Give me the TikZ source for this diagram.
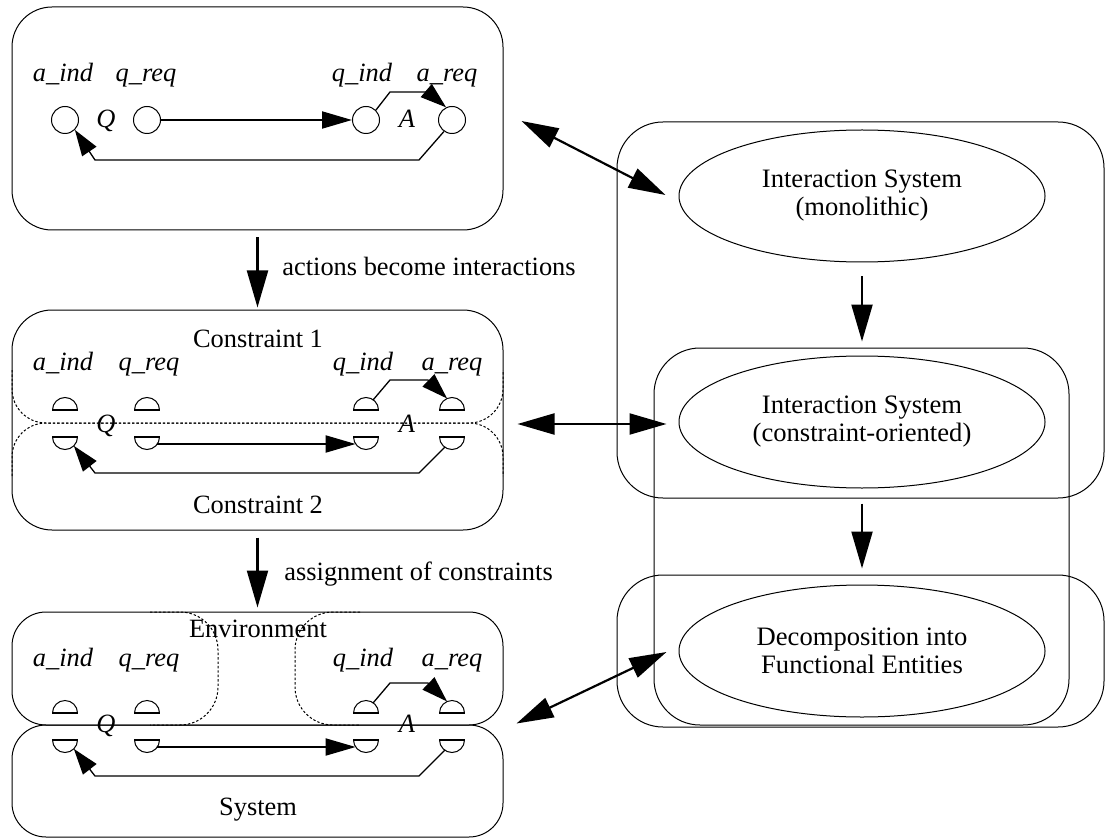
\documentclass[tikz,border=0pt]{standalone}
\usepackage{fontspec}
\setmainfont{Liberation Serif}
\usetikzlibrary{arrows.meta,calc,shapes.geometric}
\begin{document}
\begin{tikzpicture}[x=0.5pt,y=0.5pt,
 lbox/.style={draw, line width=0.5pt, rounded corners=20pt, inner sep=0pt, minimum width=245.5pt},
 rbox/.style={draw, line width=0.5pt, rounded corners=23pt, inner sep=0pt},
 dotline/.style={line width=0.5pt, dash pattern=on 1.2pt off 1pt},
 port/.style={circle, draw, line width=0.5pt, minimum size=13.5pt, inner sep=0pt},
 dome/.style={line width=0.5pt},
 flatbar/.style={line width=1.1pt},
 lbl/.style={font=\fontsize{13.2}{15}\selectfont\itshape, anchor=base, inner sep=0pt},
 txt/.style={font=\fontsize{13.2}{15}\selectfont, anchor=base, inner sep=0pt},
 ell/.style={ellipse, draw, line width=0.5pt, minimum width=183pt, minimum height=66pt, inner sep=0pt, align=center, font=\fontsize{13.3}{14}\selectfont},
 hconn/.style={line width=1pt, -{Triangle[length=15pt,width=8.5pt]}},
 sconn/.style={line width=0.65pt, -{Triangle[length=13pt,width=8.5pt]}},
 big/.style={line width=1.1pt, -{Triangle[length=18.5pt,width=10.5pt]}},
 dbl/.style={line width=1.1pt, {Triangle[length=18.5pt,width=10.5pt]}-{Triangle[length=18.5pt,width=10.5pt]}}
]
\useasboundingbox (0,0) rectangle (1106,-839);

% ---------- left boxes ----------
\node[lbox, minimum height=111.5pt] (topbox) at (257.5,-118.5) {};
\node[lbox, minimum height=110pt] (midbox) at (257.5,-420) {};
\node[lbox, rounded corners=17pt, minimum height=56.5pt] (envbox) at (257.5,-668.5) {};
\node[lbox, rounded corners=17pt, minimum height=56pt] (sysbox) at (257.5,-781) {};

% constraint outlines (dotted)
\draw[dotline, rounded corners=17pt] (12,-370) -- (12,-423) -- (503,-423) -- (503,-370);
\draw[dotline, rounded corners=17pt] (12,-476) -- (12,-423) -- (503,-423) -- (503,-476);
\draw[dotline, rounded corners=19pt] (150,-612) -- (218,-612) -- (218,-725) -- (150,-725);
\draw[dotline, rounded corners=19pt] (360,-612) -- (295,-612) -- (295,-725) -- (360,-725);

% section texts
\node[txt] (c1) at (258,-347) {Constraint 1};
\node[txt] (c2) at (258,-513) {Constraint 2};
\node[txt] (env) at (258,-637) {Environment};
\node[txt] (sys) at (258,-815) {System};

% ---------- top section ----------
\node[port] (t-aind) at (65,-120) {};
\node[port] (t-qreq) at (147,-120) {};
\node[port] (t-qind) at (366,-120) {};
\node[port] (t-areq) at (452,-120) {};
\node[lbl] (t-laind) at (63,-82) {a\_ind};
\node[lbl] (t-lqreq) at (146,-82) {q\_req};
\node[lbl] (t-lqind) at (362,-82) {q\_ind};
\node[lbl] (t-lareq) at (447,-82) {a\_req};
\node[lbl] (t-Q) at (106,-128) {Q};
\node[lbl] (t-A) at (407,-128) {A};
\draw[hconn] (t-qreq) -- (t-qind);
\draw[sconn] (t-qind.45) -- ($(t-qind)+(24,28)$) -- ($(t-areq)+(-24,28)$) -- (t-areq.115);
\draw[sconn] (t-areq.235) -- ($(t-areq)+(-33,-40)$) -- ($(t-aind)+(30,-40)$) -- (t-aind.-45);

% ---------- middle and bottom sections ----------
\foreach \s/\uf/\lf/\lb/\qb in {m/410/437/370/432, b/713/740/666/732} {
  \foreach \n/\x in {aind/65, qreq/147, qind/366, areq/452} {
    \coordinate (\s-\n-u) at (\x,-\uf);
    \coordinate (\s-\n-l) at (\x,-\lf);
    \draw[dome] (\s-\n-u) ++(-6.25pt,0) arc (180:0:6.25pt);
    \draw[flatbar] (\s-\n-u) ++(-13,0) -- ++(26,0);
    \draw[dome] (\s-\n-l) ++(-6.25pt,0) arc (180:360:6.25pt);
    \draw[flatbar] (\s-\n-l) ++(-13,0) -- ++(26,0);
  }
  \node[lbl] (\s-laind) at (63,-\lb) {a\_ind};
  \node[lbl] (\s-lqreq) at (149,-\lb) {q\_req};
  \node[lbl] (\s-lqind) at (363,-\lb) {q\_ind};
  \node[lbl] (\s-lareq) at (452,-\lb) {a\_req};
  \node[lbl] (\s-Q) at (106,-\qb) {Q};
  \node[lbl] (\s-A) at (407,-\qb) {A};
  \draw[hconn] ($(\s-qreq-l)+(10.4,-7)$) -- ($(\s-qind-l)+(-10.4,-7)$);
  \draw[sconn] ($(\s-qind-u)+(7.2,10.2)$) -- ($(\s-qind-u)+(24,30)$) -- ($(\s-areq-u)+(-24,30)$) -- ($(\s-areq-u)+(-4.9,11.5)$);
  \draw[sconn] ($(\s-areq-l)+(-7.2,-10.2)$) -- ($(\s-areq-l)+(-33,-36)$) -- ($(\s-aind-l)+(30,-36)$) -- ($(\s-aind-l)+(8.8,-8.8)$);
}

% ---------- left vertical arrows ----------
\draw[big] ($(topbox.south)+(0,-7)$) -- ($(midbox.north)+(0,2)$);
\node[txt, anchor=base west] (lab1) at (282,-276) {actions become interactions};
\draw[big] ($(midbox.south)+(0,-7)$) -- ($(envbox.north)+(0,4)$);
\node[txt, anchor=base west] (lab2) at (284,-580) {assignment of constraints};

% ---------- right side ----------
\node[rbox, minimum width=243.5pt, minimum height=188pt] (rb1) at (860.5,-310) {};
\node[rbox, minimum width=207.5pt, minimum height=188.5pt] (rb2) at (861.5,-536.5) {};
\node[rbox, minimum width=243.5pt, minimum height=76pt] (rb3) at (860.5,-651) {};

\node[ell] (e1) at (862,-196) {Interaction System\\(monolithic)};
\node[ell] (e2) at (862,-422) {Interaction System\\(constraint-oriented)};
\node[ell] (e3) at (862,-651) {Decomposition into\\Functional Entities};

\draw[big] ($(e1.south)+(0,-14)$) -- ($(e2.north)+(0,14)$);
\draw[big] ($(e2.south)+(0,-15)$) -- ($(e3.north)+(0,16)$);

\draw[dbl] ($(topbox.east)+(18,-2.5)$) -- ($(e1.west)+(-13,1)$);
\draw[dbl] ($(midbox.east)+(14,-4)$) -- ($(e2.west)+(-12,-2)$);
\draw[dbl] ($(sysbox.north east)+(13,1)$) -- ($(e3.west)+(-12,-1)$);
\end{tikzpicture}
\end{document}
